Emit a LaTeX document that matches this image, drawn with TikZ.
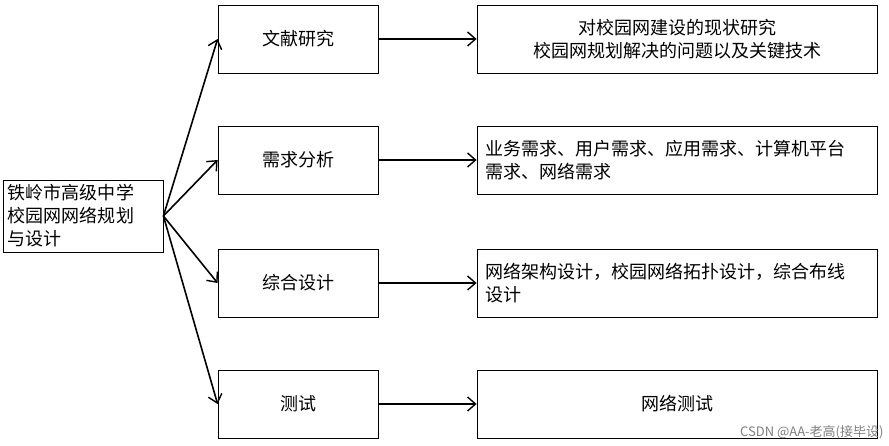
\documentclass[tikz,border=0pt]{standalone}
\usepackage{fontspec}
\setmainfont{Liberation Sans}
\newfontfamily\cjk{Noto Sans CJK SC}
\usetikzlibrary{arrows.meta}
\begin{document}
\begin{tikzpicture}[x=1pt,y=-1pt,
  box/.style={draw,line width=0.8pt,minimum height=68pt,font=\cjk\fontsize{18}{23}\selectfont,align=center,inner sep=2pt},
  mid/.style={box,minimum width=160pt},
  right/.style={box,minimum width=400pt,text width=384pt},
  arr/.style={line width=1.6pt,-{Straight Barb[length=8pt,width=14pt,line width=1.4pt]}}]
\useasboundingbox (0,0) rectangle (889,446);
\fill[white] (0,0) rectangle (889,446);
\node[box,minimum width=160pt,minimum height=72pt,text width=150pt,align=left] (root) at (83,216) {铁岭市高级中学\\校园网网络规划\\与设计};
\node[mid] (m1) at (298,39) {文献研究};
\node[mid] (m2) at (298,160) {需求分析};
\node[mid] (m3) at (298,283) {综合设计};
\node[mid] (m4) at (298,404) {测试};
\node[right,align=center] (r1) at (677,39) {对校园网建设的现状研究\\校园网规划解决的问题以及关键技术};
\node[right,align=left] (r2) at (677,160) {业务需求、用户需求、应用需求、计算机平台\\需求、网络需求};
\node[right,align=left] (r3) at (677,283) {网络架构设计，校园网络拓扑设计，综合布线\\设计};
\node[right,align=center] (r4) at (677,404) {网络测试};
\foreach \i in {1,2,3,4}{
  \draw[arr] (root.east) -- (m\i.west);
  \draw[arr] (m\i.east) -- (r\i.west);
}
\node[font=\cjk\fontsize{13}{15}\selectfont,text=gray,anchor=east] (wm) at (887,432) {CSDN @AA-老高(接毕设)};
\end{tikzpicture}
\end{document}
